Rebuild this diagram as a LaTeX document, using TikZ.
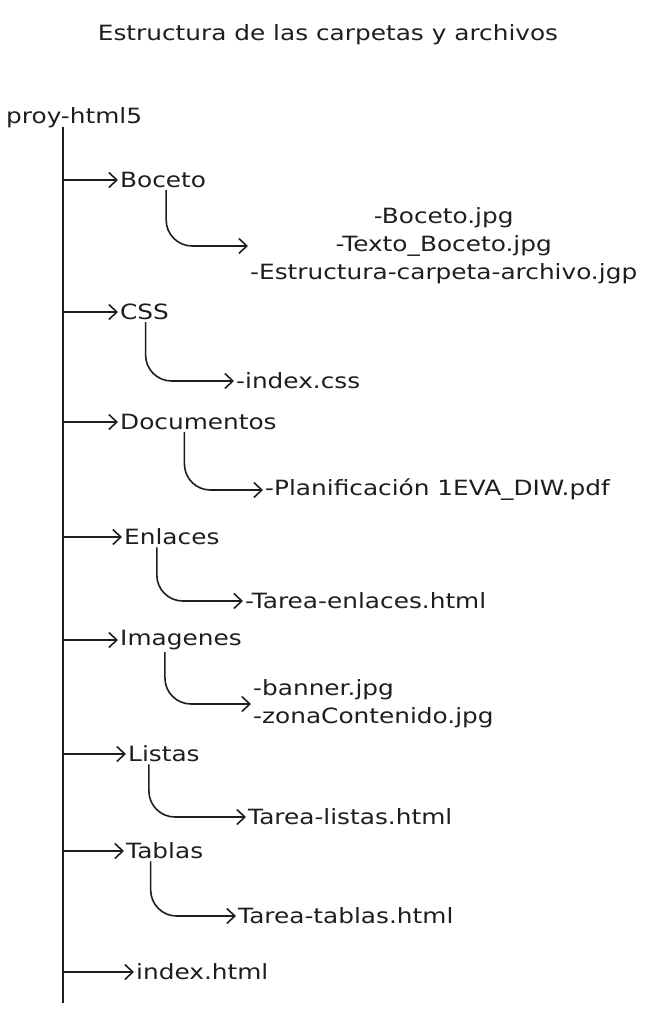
\documentclass[tikz,border=0pt]{standalone}
\usepackage{fontspec}
\setmainfont{DejaVu Sans}[FakeStretch=1.18]
\usetikzlibrary{arrows.meta}
\definecolor{ink}{HTML}{1E1E1E}
\tikzset{
  label/.style={anchor=west, inner sep=2pt, text=ink, font=\fontsize{21}{28}\selectfont},
  trunk/.style={draw=ink, line width=2.2pt},
  branch/.style={draw=ink, line width=1.6pt, -{Straight Barb[length=8pt,width=15pt]}},
  sub/.style={branch, rounded corners=26pt}
}
\begin{document}
\begin{tikzpicture}[x=1pt,y=-1pt]
  \useasboundingbox[fill=white] (0,0) rectangle (664,1013);

  \node[label, anchor=center] (title) at (328,35) {Estructura de las carpetas y archivos};
  \node[label] (root) at (4,118) {proy-html5};
  \coordinate (top) at (63,127);
  \coordinate (bottom) at (63,1003);
  \draw[trunk] (top) -- (bottom);

  %% folders
  \node[label] (boceto)   at (118,180) {Boceto};
  \node[label] (css)      at (118,312) {CSS};
  \node[label] (docs)     at (118,422) {Documentos};
  \node[label] (enlaces)  at (122,537) {Enlaces};
  \node[label] (imagenes) at (118,640) {Imagenes};
  \node[label] (listas)   at (126,754) {Listas};
  \node[label] (tablas)   at (124,851) {Tablas};
  \node[label] (index)    at (134,972) {index.html};

  \foreach \f in {boceto,css,docs,enlaces,imagenes,listas,tablas,index}
    \draw[branch] (\f.west -| top) -- (\f.west);

  %% files
  \node[label, align=center] (bfiles) at (248,246)
    {-Boceto.jpg\\-Texto\_Boceto.jpg\\-Estructura-carpeta-archivo.jgp};
  \node[label] (cssfile) at (234,381) {-index.css};
  \node[label] (docfile) at (263,490) {-Planificación 1EVA\_DIW.pdf};
  \node[label] (enlfile) at (243,601) {-Tarea-enlaces.html};
  \node[label, align=left] (imgfiles) at (251,704) {-banner.jpg\\-zonaContenido.jpg};
  \node[label] (lisfile) at (246,817) {Tarea-listas.html};
  \node[label] (tabfile) at (236,916) {Tarea-tablas.html};

  \draw[sub] ([xshift=3pt]boceto.south) |- (bfiles.west);
  \draw[sub] ([xshift=1pt]css.south) |- (cssfile.west);
  \draw[sub] ([xshift=-14pt]docs.south) |- (docfile.west);
  \draw[sub] ([xshift=-15pt]enlaces.south) |- (enlfile.west);
  \draw[sub] ([xshift=-16pt]imagenes.south) |- (imgfiles.west);
  \draw[sub] ([xshift=-15pt]listas.south) |- (lisfile.west);
  \draw[sub] ([xshift=-14pt]tablas.south) |- (tabfile.west);
\end{tikzpicture}
\end{document}
